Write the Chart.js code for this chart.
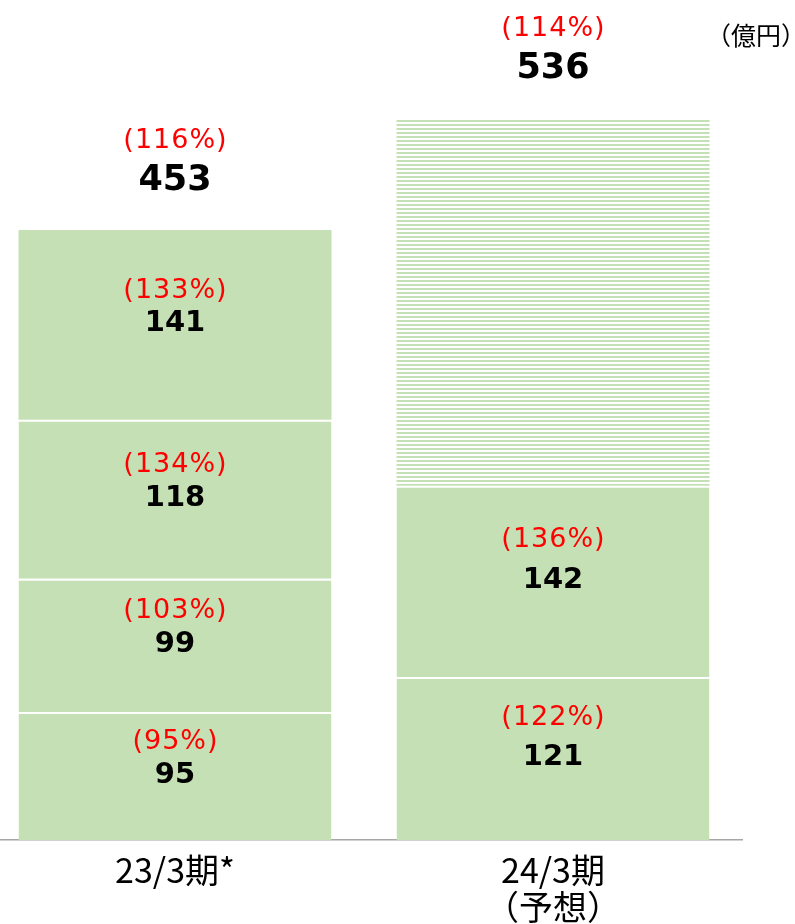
<!DOCTYPE html>
<html>
<head>
<meta charset="utf-8">
<script src="https://cdn.jsdelivr.net/npm/chart.js@4.4.1/dist/chart.umd.min.js"></script>
<style>
  html, body { margin: 0; padding: 0; background: #fff; overflow: hidden; }
  #wrap { position: absolute; left: -14px; top: 0; width: 809px; height: 924px; }
</style>
</head>
<body>
<div id="wrap"><canvas id="c"></canvas></div>
<script>
// ---- data ----
const categories = [['23/3期*'], ['24/3期', '（予想）']];
const seg1 = [95, 121];
const seg2 = [99, 142];
const seg3 = [118, null];
const seg4 = [141, null];
const forecastRest = [null, 273];
const seg1Pct = ['(95%)', '(122%)'];
const seg2Pct = ['(103%)', '(136%)'];
const seg3Pct = ['(134%)', null];
const seg4Pct = ['(133%)', null];
const totals = [453, 536];
const totalPct = ['(116%)', '(114%)'];
const unitLabel = '（億円）';

const GREEN = '#C5E0B4';
function stripePattern() {
  const p = document.createElement('canvas');
  p.width = 4; p.height = 4;
  const g = p.getContext('2d');
  g.fillStyle = '#ffffff'; g.fillRect(0, 0, 4, 4);
  g.fillStyle = GREEN; g.fillRect(0, 0, 4, 2);
  return document.getElementById('c').getContext('2d').createPattern(p, 'repeat');
}

const pctLabels = [seg1Pct, seg2Pct, seg3Pct, seg4Pct, [null, null]];
const PCT_FONT = '27px "DejaVu Sans"';

function drawSpaced(ctx, text, x, y) {
  if ('letterSpacing' in ctx) {
    ctx.letterSpacing = '1px';
    ctx.fillText(text, x + 0.5, y);
    ctx.letterSpacing = '0px';
  } else {
    ctx.fillText(text, x, y);
  }
}

const labelPlugin = {
  id: 'labels',
  afterDatasetsDraw(chart) {
    const ctx = chart.ctx;
    ctx.save();
    ctx.textAlign = 'center';
    ctx.textBaseline = 'middle';
    chart.data.datasets.forEach((ds, di) => {
      const meta = chart.getDatasetMeta(di);
      meta.data.forEach((el, i) => {
        const v = ds.data[i];
        const pct = pctLabels[di][i];
        if (v == null || pct == null) return;
        const cy = (el.y + el.base) / 2;
        const off = i === 0 ? 34 : 41;
        ctx.fillStyle = '#FF0000';
        ctx.font = PCT_FONT;
        drawSpaced(ctx, pct, el.x, cy - off);
        ctx.fillStyle = '#000000';
        ctx.font = 'bold 29px "DejaVu Sans"';
        ctx.fillText(String(v), el.x, cy - 1);
      });
    });
    // totals
    const yScale = chart.scales.y;
    const xScale = chart.scales.x;
    totals.forEach((t, i) => {
      const x = xScale.getPixelForValue(i);
      const top = yScale.getPixelForValue(t);
      ctx.fillStyle = '#FF0000';
      ctx.font = PCT_FONT;
      drawSpaced(ctx, totalPct[i], x, top - 89);
      ctx.fillStyle = '#000000';
      ctx.font = 'bold 35px "DejaVu Sans"';
      ctx.fillText(String(t), x, top - 49);
    });
    // unit
    ctx.textAlign = 'right';
    ctx.fillStyle = '#000000';
    ctx.font = '25px "Noto Sans CJK JP"';
    ctx.fillText(unitLabel, 820, 35);
    ctx.restore();
  }
};

function ds(data, color, topBorder) {
  return {
    data, backgroundColor: color, borderColor: '#ffffff',
    borderWidth: { top: topBorder, bottom: 0, left: 0, right: 0 },
    borderSkipped: false, categoryPercentage: 1.0, barPercentage: 0.828
  };
}

new Chart(document.getElementById('c'), {
  type: 'bar',
  data: {
    labels: categories,
    datasets: [
      ds(seg1, GREEN, 2), ds(seg2, GREEN, 2), ds(seg3, GREEN, 2), ds(seg4, GREEN, 0),
      ds(forecastRest, stripePattern(), 0)
    ]
  },
  options: {
    responsive: true,
    maintainAspectRatio: false,
    animation: false,
    layout: { padding: { top: 32, right: 53, left: 0, bottom: 0 } },
    plugins: { legend: { display: false }, tooltip: { enabled: false } },
    scales: {
      x: {
        stacked: true,
        grid: { display: false, drawTicks: false },
        border: { display: true, color: '#A6A6A6', width: 1.5 },
        ticks: {
          color: '#000', padding: 11, maxRotation: 0,
          font: { family: '"Noto Sans CJK JP"', size: 34, lineHeight: 1.1 }
        },
        afterFit(scale) { scale.height = 84; }
      },
      y: { stacked: true, display: false, min: 0, max: 600 }
    }
  },
  plugins: [labelPlugin]
});
</script>
</body>
</html>
